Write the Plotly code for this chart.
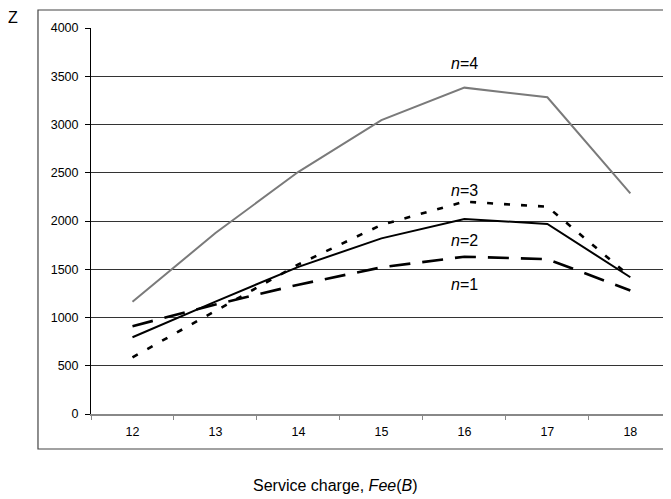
import plotly.graph_objects as go

fees = ["12", "13", "14", "15", "16", "17", "18"]
z_n1 = [910, 1135, 1340, 1520, 1630, 1605, 1280]
z_n2 = [795, 1165, 1525, 1820, 2020, 1970, 1417]
z_n3 = [587, 1065, 1550, 1960, 2200, 2148, 1423]
z_n4 = [1163, 1875, 2510, 3045, 3382, 3282, 2287]
y_ticks = [0, 500, 1000, 1500, 2000, 2500, 3000, 3500, 4000]
labels = ["<i>n</i>=1", "<i>n</i>=2", "<i>n</i>=3", "<i>n</i>=4"]
label_x = ["16", "16", "16", "16"]
label_y = [1337, 1803, 2321, 3634]

FONT = "Liberation Sans, Arial, sans-serif"

fig = go.Figure()
fig.add_trace(go.Scatter(x=fees, y=z_n4, mode="lines", line=dict(color="#7a7a7a", width=2), showlegend=False))
fig.add_trace(go.Scatter(x=fees, y=z_n3, mode="lines", line=dict(color="black", width=2.6, dash="6px,11px"), showlegend=False))
fig.add_trace(go.Scatter(x=fees, y=z_n2, mode="lines", line=dict(color="black", width=2), showlegend=False))
fig.add_trace(go.Scatter(x=fees, y=z_n1, mode="lines", line=dict(color="black", width=2.6, dash="21px,12px"), showlegend=False))

for t, xx, yy in zip(labels, label_x, label_y):
    fig.add_annotation(x=fees.index(xx), y=yy, text=t, showarrow=False, xref="x", yref="y",
                       xanchor="center", yanchor="middle",
                       font=dict(family=FONT, size=16, color="black"))

fig.add_annotation(x=-0.1345, y=1.026, xref="paper", yref="paper", text="Z", showarrow=False,
                   xanchor="center", yanchor="middle",
                   font=dict(family=FONT, size=16, color="black"))
fig.add_annotation(x=0.4224, y=-0.1865, xref="paper", yref="paper",
                   text="Service charge, <i>Fee</i>(<i>B</i>)", showarrow=False,
                   xanchor="center", yanchor="middle",
                   font=dict(family=FONT, size=16, color="black"))

fig.add_shape(type="rect", xref="paper", yref="paper", x0=-0.0914, x1=0.9983, y0=-0.0907, y1=1.0466,
              line=dict(color="#444", width=1.2), layer="below")

fig.update_layout(
    width=663, height=491,
    margin=dict(l=83, r=0, t=20, b=85),
    paper_bgcolor="white", plot_bgcolor="white",
    font=dict(family=FONT, size=12, color="black"),
    xaxis=dict(type="category", range=[-0.5, 6.49], tickson="boundaries", ticks="outside",
               ticklen=4, tickcolor="#888", showgrid=False, showline=True, linecolor="#888",
               linewidth=1.5, ticklabelstandoff=5, tickfont=dict(family=FONT, size=12.5, color="black"),
               zeroline=False),
    yaxis=dict(range=[0, 4000], tickvals=y_ticks, ticks="outside", ticklen=5, tickcolor="black",
               showgrid=True, gridcolor="#333", gridwidth=1, showline=True, linecolor="black",
               linewidth=1, zeroline=False, tickfont=dict(family=FONT, size=12.5, color="black"),
               ticklabelstandoff=4),
)

fig.write_html("out.html")
